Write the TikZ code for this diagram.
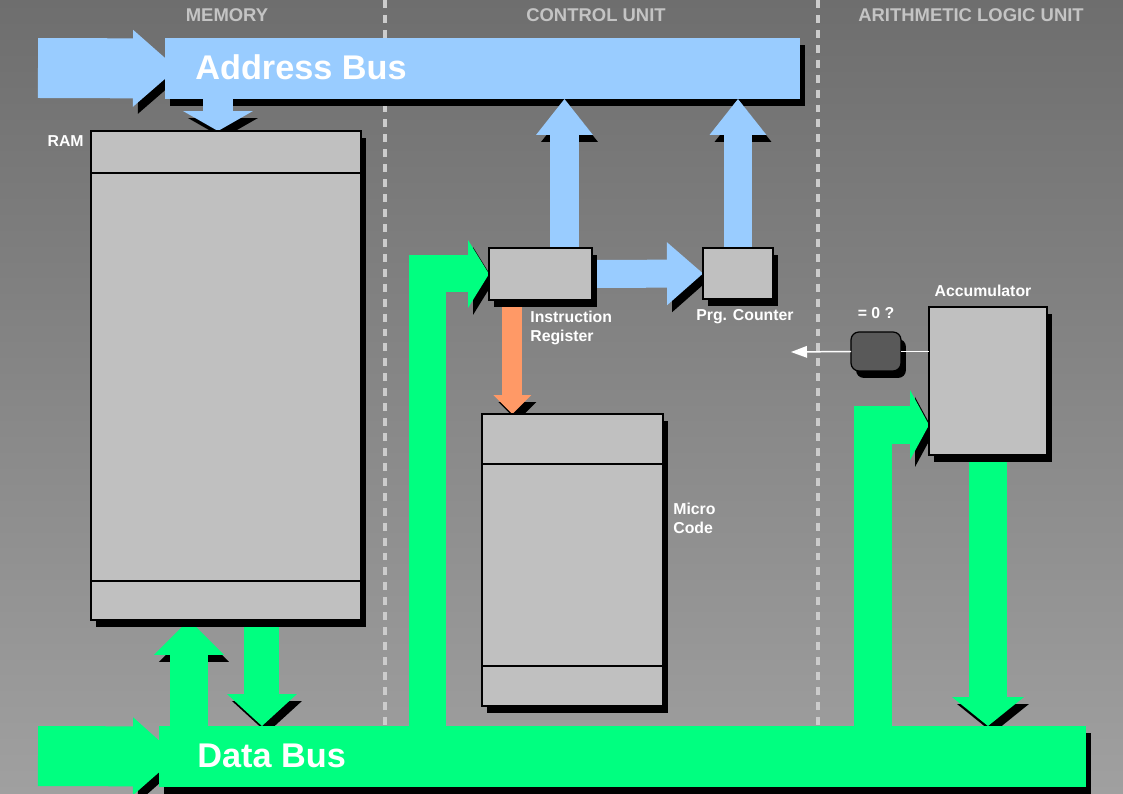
\documentclass[tikz,border=0pt]{standalone}
\usepackage{fontspec}
\setmainfont{Liberation Sans}
\usepackage{tikz}
\usetikzlibrary{arrows.meta,positioning,calc}

\pgfdeclarelayer{back}
\pgfdeclarelayer{busa}
\pgfdeclarelayer{arr}
\pgfsetlayers{back,busa,arr,main}

\begin{document}
\begin{tikzpicture}[x=0.02cm, y=-0.02cm, font=\bfseries,
  shd/.style={preaction={fill=black, transform canvas={shift={(5,7)}}}},
  ashd/.style={preaction={draw=black, transform canvas={shift={(5,7)}}}},
  box/.style={draw=black, line width=0.7pt, fill=boxc, inner sep=0pt, outer sep=0pt, anchor=north west, shd},
  bus/.style={fill=#1, inner sep=0pt, outer sep=0pt, anchor=north west, shd},
  blk/.style n args={4}{draw=#1, line width=#2, ashd,
    -{Triangle[length=#3 0 0, width=#4 0 0, line width=0pt 0 0]}},
  lbl/.style={white, inner sep=0pt, font=\fontsize{9}{10.5}\selectfont\bfseries},
  head/.style={text=headc, inner sep=0pt, font=\fontsize{10.5}{12}\selectfont\bfseries},
  busname/.style={white, inner sep=0pt, font=\fontsize{19.5}{22}\selectfont\bfseries},
  divider/.style={draw=divc, line width=2.3pt, dash pattern=on 4.5pt off 4pt}]

\definecolor{busblue}{HTML}{99CCFF}
\definecolor{busgreen}{HTML}{00FF80}
\definecolor{irorange}{HTML}{FF9966}
\definecolor{boxc}{HTML}{C0C0C0}
\definecolor{zeroc}{HTML}{595959}
\definecolor{headc}{HTML}{C4C4C4}
\definecolor{divc}{HTML}{CCCCCC}
\definecolor{bgtop}{HTML}{6E6E6E}
\definecolor{bgbot}{HTML}{A0A0A0}

\useasboundingbox (0,0) rectangle (1123,794);

\begin{pgfonlayer}{back}
\shade[top color=bgtop, bottom color=bgbot] (0,0) rectangle (1123,794);
\draw[divider] (385,0) -- (385,794);
\draw[divider] (818,0) -- (818,794);
\node[head, anchor=base] (hmem) at (227,22) {MEMORY};
\node[head, anchor=base] (hcu) at (596,22) {CONTROL UNIT};
\node[head, anchor=base] (halu) at (971,22) {ARITHMETIC LOGIC UNIT};
\end{pgfonlayer}

% buses
\begin{pgfonlayer}{busa}
\node[bus=busblue, minimum width=12.7cm, minimum height=1.22cm] (abus) at (165,38) {};
\node[busname, anchor=base west] (abuslbl) at (195,80) {Address Bus};
\end{pgfonlayer}
\node[bus=busgreen, minimum width=18.54cm, minimum height=1.22cm] (dbus) at (159,726) {};
\node[busname, anchor=base west] (dbuslbl) at (197,767) {Data Bus};

% memory
\node[box, minimum width=5.4cm, minimum height=9.78cm] (ram) at (91,131) {};
\draw[line width=0.7pt] ($(ram.north west)+(0,42)$) -- ($(ram.north east)+(0,42)$);
\draw[line width=0.7pt] ($(ram.south west)+(0,-39)$) -- ($(ram.south east)+(0,-39)$);
\node[lbl, anchor=base east] (ramlbl) at (84,147) {RAM};

% control unit
\node[box, minimum width=2.06cm, minimum height=1.04cm] (ir) at (489,248) {};
\node[box, minimum width=1.4cm, minimum height=1.02cm] (pc) at (703,248) {};
\node[box, minimum width=3.62cm, minimum height=5.84cm] (mc) at (482,414) {};
\draw[line width=0.7pt] ($(mc.north west)+(0,50)$) -- ($(mc.north east)+(0,50)$);
\draw[line width=0.7pt] ($(mc.south west)+(0,-40)$) -- ($(mc.south east)+(0,-40)$);
\node[lbl, anchor=north west, align=left] (irlbl) at (530,311) {Instruction\\Register};
\node[lbl, below=0.2cm of pc, xshift=0.14cm] (pclbl) {Prg. Counter};
\node[lbl, anchor=north west, align=left] (mclbl) at (673,503) {Micro\\Code};

% alu
\node[box, minimum width=2.36cm, minimum height=2.96cm] (acc) at (929,307) {};
\node[lbl, above=0.2cm of acc, xshift=-0.1cm] (acclbl) {Accumulator};
\node[box, fill=zeroc, rounded corners=0.16cm, minimum width=1cm, minimum height=0.78cm] (zbox) at (851,332) {};
\node[lbl, above=0.26cm of zbox] (zlbl) {= 0 ?};
\coordinate (zout) at (791,352);
\draw[white, line width=0.85pt] (zbox.east) -- (zbox.east -| acc.west);
\draw[white, line width=0.85pt, -{Triangle[length=0.32cm 0 0, width=0.24cm 0 0, line width=0pt 0 0]}] (zbox.west) -- (zout);

% bus entries
\begin{pgfonlayer}{back}
\coordinate (ain) at (38,68);
\coordinate (din) at (38,756);
\draw[blk={busblue}{1.2cm}{0.88cm}{1.54cm}] (ain) -- ($(abus.west)+(12,0)$);
\draw[blk={busgreen}{1.2cm}{0.88cm}{1.56cm}] (din) -- ($(dbus.west)+(18,0)$);
\end{pgfonlayer}

% block arrows
\begin{pgfonlayer}{arr}
\coordinate (ramin) at ($(ram.north)+(-8,0)$);
\coordinate (ramup) at ($(ram.south)+(-37,0)$);
\coordinate (ramdn) at ($(ram.south)+(36,0)$);
\coordinate (irup) at ($(ir.north)+(24,0)$);
\coordinate (irdn) at ($(ir.south)+(-28,0)$);
\coordinate (irv) at ($(ir.west)+(-62,0)$);
\coordinate (accin) at ($(acc.south west)+(0,-30)$);
\coordinate (accv) at ($(accin)+(-56,0)$);

\draw[blk={busblue}{0.6cm}{0.4cm}{1.4cm}] (abus.south -| ramin) -- (ramin);
\draw[blk={busblue}{0.58cm}{0.72cm}{1.14cm}] (irup) -- (irup |- abus.south);
\draw[blk={busblue}{0.58cm}{0.72cm}{1.14cm}] (pc.north) -- (pc.north |- abus.south);
\draw[blk={busblue}{0.56cm}{0.72cm}{1.26cm}] (ir.east) -- (pc.west);
\draw[blk={irorange}{0.4cm}{0.38cm}{0.76cm}] (irdn) -- (irdn |- mc.north);

\draw[blk={busgreen}{0.76cm}{0.7cm}{1.4cm}] (dbus.north -| ramup) -- (ramup);
\draw[blk={busgreen}{0.7cm}{0.64cm}{1.4cm}] (ramdn) -- (ramdn |- dbus.north);
\draw[blk={busgreen}{0.74cm}{0.42cm}{1.36cm}] (dbus.north -| irv) |- (ir.west);
\draw[blk={busgreen}{0.76cm}{0.38cm}{1.4cm}] (dbus.north -| accv) |- (accin);
\draw[blk={busgreen}{0.76cm}{0.58cm}{1.44cm}] (acc.south) -- (acc.south |- dbus.north);
\end{pgfonlayer}

\end{tikzpicture}
\end{document}
